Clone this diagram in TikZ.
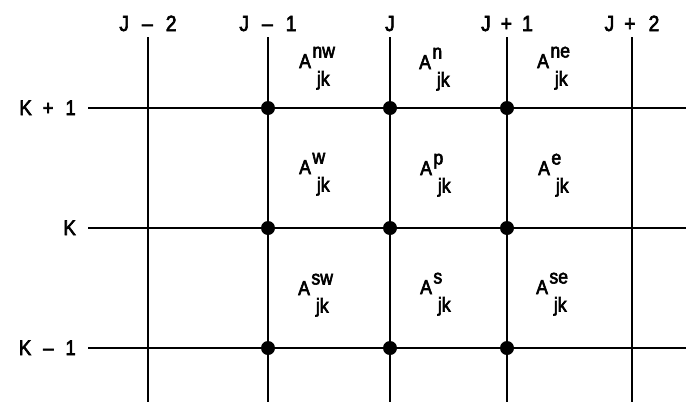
\documentclass[tikz,border=0pt]{standalone}
\usepackage{fontspec}
\setmainfont{Liberation Sans}
\newfontfamily\figfont[FakeStretch=0.88,FakeBold=3]{Liberation Sans}
\usetikzlibrary{positioning}
\newcommand{\coefA}[1]{A\kern1.5pt\rlap{\raisebox{10.5pt}{#1}}\raisebox{-17.5pt}{\kern4.5pt jk}}
\tikzset{
    gridline/.style={line width=2.5pt},
    griddot/.style={circle, fill=black, inner sep=0pt, minimum size=14pt},
    collabel/.style={font=\figfont\fontsize{22}{22}\selectfont, inner sep=0pt},
    rowlabel/.style={font=\figfont\fontsize{21}{21}\selectfont, inner sep=0pt},
    cellcoef/.style={font=\figfont\fontsize{20}{20}\selectfont, inner sep=0pt, anchor=base west}
}

\begin{document}
\begin{tikzpicture}[x=1pt,y=-1pt]
    \useasboundingbox (0,0) rectangle (686,405);

    % columns J-2 .. J+2
    \foreach \name/\x/\lab in {jmm/148/{J\kern13pt\textendash\kern13pt2}, jm/268/{J\kern13pt\textendash\kern13pt1}, j/390/{J}, jp/507/{J\kern10pt+\kern10pt1}, jpp/632/{J\kern10pt+\kern13pt2}} {
        \coordinate (\name-top) at (\x,37);
        \coordinate (\name-bot) at (\x,402);
        \draw[gridline] (\name-top) -- (\name-bot);
        \node[collabel, anchor=base] (\name-lab) at (\x,31) {\lab};
    }

    % rows K+1 .. K-1
    \foreach \name/\y/\lab in {kp/108/{K\kern11pt+\kern12pt1}, k/228/{K}, km/348/{K\kern12pt\textendash\kern12pt1}} {
        \coordinate (\name-left) at (88,\y);
        \coordinate (\name-right) at (686,\y);
        \draw[gridline] (\name-left) -- (\name-right);
        \node[rowlabel, anchor=base east] (\name-lab) at (76,\y+7) {\lab};
    }

    % grid points
    \foreach \c in {jm,j,jp} {
        \foreach \r in {kp,k,km} {
            \node[griddot] (dot-\c-\r) at (\c-top |- \r-left) {};
        }
    }

    % coefficients
    \node[cellcoef] (Anw) at (299,68) {\coefA{nw}};
    \node[cellcoef] (An) at (419,69) {\coefA{n}};
    \node[cellcoef] (Ane) at (537,68) {\coefA{ne}};
    \node[cellcoef] (Aw) at (299,174) {\coefA{w}};
    \node[cellcoef] (Ap) at (420,175) {\coefA{p}};
    \node[cellcoef] (Ae) at (538,175) {\coefA{e}};
    \node[cellcoef] (Asw) at (298,295) {\coefA{sw}};
    \node[cellcoef] (As) at (420,294) {\coefA{s}};
    \node[cellcoef] (Ase) at (536,294) {\coefA{se}};
\end{tikzpicture}
\end{document}
